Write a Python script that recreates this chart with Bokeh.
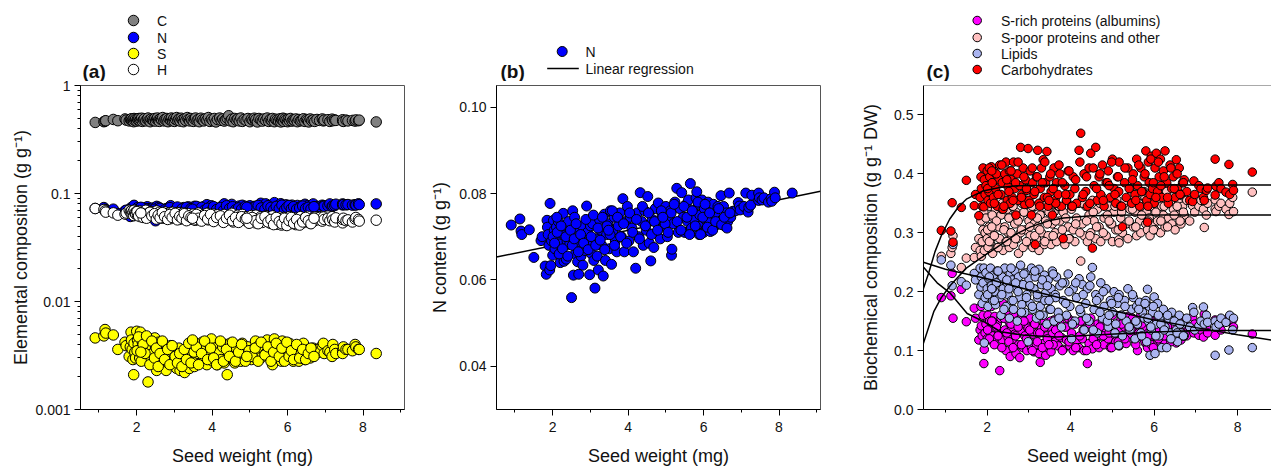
from bokeh.plotting import figure
from bokeh.layouts import row, column
from bokeh.models import Range1d, FixedTicker, Span
from bokeh.core.properties import value
from bokeh.embed import file_html
from bokeh.resources import INLINE

seed_weight = [
 .90,1.13,1.16,1.18,1.38,1.50,1.69,1.72,1.80,1.83,
 1.85,1.86,1.88,1.90,1.92,1.93,1.95,1.97,2.00,2.02,
 2.04,2.06,2.08,2.10,2.13,2.15,2.18,2.20,2.24,2.28,
 2.30,2.33,2.36,2.38,2.42,2.45,2.48,2.50,2.53,2.55,
 2.58,2.60,2.63,2.66,2.69,2.72,2.75,2.78,2.80,2.83,
 2.86,2.90,2.92,2.95,2.98,3.00,3.03,3.06,3.09,3.12,
 3.15,3.18,3.21,3.24,3.27,3.30,3.34,3.37,3.40,3.43,
 3.46,3.50,3.53,3.56,3.60,3.63,3.66,3.70,3.74,3.78,
 3.82,3.86,3.90,3.94,3.98,4.02,4.06,4.10,4.14,4.20,
 4.24,4.28,4.32,4.36,4.40,4.44,4.48,4.52,4.56,4.60,
 4.64,4.68,4.72,4.76,4.80,4.85,4.90,4.95,5.00,5.04,
 5.08,5.12,5.15,5.16,5.20,5.24,5.29,5.33,5.37,5.42,
 5.46,5.50,5.54,5.58,5.60,5.65,5.68,5.72,5.76,5.80,
 5.82,5.84,5.86,5.88,5.90,5.93,5.96,6.00,6.02,6.05,
 6.08,6.12,6.15,6.18,6.22,6.26,6.30,6.34,6.38,6.42,
 6.46,6.50,6.53,6.56,6.60,6.64,6.68,6.72,6.78,6.85,
 6.92,6.95,6.97,7.07,7.12,7.18,7.20,7.25,7.28,7.46,
 7.46,7.48,7.55,7.60,7.72,7.79,7.81,7.88,7.90,8.35,
 2.01,2.05,2.12,2.17,2.22,2.26,2.35,2.40,2.47,2.52,
 2.57,2.62,2.68,2.74,2.82,2.88,2.94,3.02,3.08,3.14,
 3.20,3.26,3.32,3.38,3.44,3.52,3.58,3.64,3.72,3.80,
 3.88,3.96,4.04,4.12,4.22,4.30,4.38,4.46,4.54,4.62,
 4.70,4.78,4.88,4.98,5.06,5.14,5.22,5.30,5.40,5.48,
 5.56,5.63,5.70,5.78,5.85,5.92,5.98,6.04,6.10,6.16,
 6.24,6.32,6.40,6.48,6.55,6.62,6.70,2.11,3.48,4.92]

nitrogen = [
 .0727,.0741,.0713,.0705,.0716,.0652,.0691,.0700,.0632,.0613,
 .0738,.0722,.0705,.0680,.0623,.0777,.0633,.0690,.0657,.0738,
 .0715,.0672,.0700,.0722,.0690,.0735,.0683,.0640,.0708,.0754,
 .0643,.0725,.0648,.0690,.0735,.0682,.0700,.0559,.0760,.0611,
 .0745,.0660,.0720,.0642,.0613,.0688,.0655,.0725,.0634,.0700,
 .0668,.0771,.0710,.0682,.0612,.0725,.0660,.0730,.0645,.0581,
 .0695,.0655,.0623,.0740,.0715,.0680,.0609,.0752,.0645,.0705,
 .0730,.0672,.0760,.0636,.0715,.0745,.0690,.0665,.0725,.0755,
 .0700,.0788,.0665,.0735,.0770,.0690,.0745,.0720,.0665,.0627,
 .0755,.0700,.0802,.0735,.0680,.0760,.0715,.0793,.0685,.0644,
 .0740,.0675,.0765,.0710,.0778,.0695,.0750,.0725,.0770,.0700,
 .0740,.0760,.0657,.0671,.0730,.0780,.0812,.0710,.0765,.0802,
 .0745,.0710,.0775,.0735,.0785,.0823,.0720,.0760,.0740,.0790,
 .0804,.0715,.0775,.0705,.0750,.0725,.0785,.0710,.0765,.0740,
 .0720,.0780,.0735,.0712,.0755,.0775,.0725,.0745,.0770,.0730,
 .0795,.0740,.0770,.0725,.0755,.0735,.0801,.0745,.0759,.0760,
 .0779,.0771,.0762,.0770,.0801,.0757,.0768,.0773,.0796,.0801,
 .0784,.0790,.0785,.0790,.0780,.0788,.0782,.0803,.0790,.0801,
 .0700,.0685,.0710,.0660,.0725,.0672,.0700,.0655,.0715,.0680,
 .0695,.0730,.0665,.0705,.0685,.0740,.0670,.0700,.0750,.0680,
 .0720,.0692,.0745,.0670,.0725,.0705,.0760,.0680,.0745,.0700,
 .0730,.0685,.0755,.0710,.0740,.0695,.0770,.0725,.0755,.0705,
 .0735,.0715,.0760,.0730,.0710,.0755,.0775,.0735,.0715,.0770,
 .0745,.0705,.0760,.0725,.0780,.0705,.0745,.0775,.0722,.0755,
 .0715,.0735,.0765,.0728,.0745,.0720,.0755,.0745,.0715,.0745]

carbon = [
 .455,.462,.468,.472,.485,.472,.490,.478,.470,.486,
 .480,.492,.470,.485,.462,.495,.475,.488,.468,.490,
 .478,.495,.472,.485,.498,.465,.480,.492,.470,.486,
 .500,.475,.462,.490,.480,.472,.495,.468,.488,.500,
 .478,.465,.492,.482,.505,.470,.486,.475,.495,.462,
 .488,.478,.500,.470,.492,.465,.485,.505,.475,.490,
 .468,.498,.480,.462,.492,.475,.505,.485,.470,.495,
 .478,.465,.490,.500,.472,.485,.462,.498,.480,.470,
 .492,.478,.505,.465,.488,.472,.495,.460,.485,.500,
 .475,.490,.468,.482,.498,.525,.470,.488,.462,.495,
 .478,.490,.470,.500,.465,.485,.475,.495,.462,.488,
 .478,.498,.470,.485,.460,.495,.480,.468,.490,.475,
 .500,.465,.485,.472,.495,.462,.488,.478,.470,.492,
 .460,.485,.475,.498,.465,.490,.478,.462,.488,.472,
 .495,.468,.482,.475,.490,.462,.485,.470,.478,.492,
 .465,.485,.475,.460,.490,.472,.480,.465,.485,.475,
 .490,.470,.478,.482,.465,.488,.472,.480,.475,.470,
 .482,.465,.478,.470,.475,.468,.480,.472,.478,.460]

sulfur = [
 .0046,.0048,.0055,.0051,.0049,.0036,.0042,.0039,.0031,.0038,
 .0052,.0044,.0036,.0029,.0021,.0041,.0034,.0030,.0053,.0044,
 .0040,.0034,.0030,.0052,.0037,.0042,.0032,.0046,.0030,.0036,
 .0018,.0040,.0028,.0045,.0033,.0026,.0046,.0038,.0023,.0031,
 .0042,.0027,.0036,.0032,.0028,.0040,.0034,.0023,.0031,.0027,
 .0036,.0039,.0028,.0033,.0026,.0030,.0035,.0024,.0028,.0037,
 .0023,.0031,.0027,.0034,.0022,.0030,.0026,.0035,.0024,.0028,
 .0032,.0036,.0025,.0041,.0029,.0033,.0038,.0027,.0042,.0030,
 .0036,.0026,.0041,.0032,.0045,.0028,.0037,.0030,.0026,.0034,
 .0029,.0038,.0027,.0040,.0021,.0033,.0041,.0029,.0035,.0027,
 .0037,.0030,.0033,.0028,.0041,.0035,.0030,.0038,.0033,.0029,
 .0036,.0032,.0043,.0030,.0034,.0039,.0030,.0041,.0036,.0033,
 .0044,.0031,.0037,.0029,.0026,.0045,.0035,.0040,.0030,.0041,
 .0034,.0028,.0043,.0032,.0037,.0029,.0039,.0033,.0030,.0041,
 .0036,.0030,.0028,.0033,.0035,.0039,.0028,.0033,.0030,.0041,
 .0029,.0034,.0031,.0036,.0030,.0033,.0037,.0032,.0036,.0034,
 .0039,.0041,.0033,.0035,.0034,.0031,.0040,.0036,.0033,.0035,
 .0033,.0038,.0036,.0036,.0035,.0040,.0038,.0036,.0036,.0033,
 .0035,.0047,.0028,.0040,.0033,.0048,.0026,.0043,.0030,.0037,
 .0025,.0033,.0043,.0029,.0036,.0026,.0039,.0031,.0027,.0033,
 .0025,.0036,.0029,.0041,.0027,.0034,.0038,.0026,.0033,.0043,
 .0029,.0037,.0030,.0026,.0043,.0028,.0036,.0031,.0042,.0028,
 .0034,.0040,.0028,.0035,.0031,.0037,.0028,.0042,.0032,.0038,
 .0028,.0034,.0041,.0031,.0037,.0028,.0042,.0031,.0035,.0029,
 .0040,.0030,.0036,.0029,.0033,.0037,.0031,.0034,.0044,.0031]

hydrogen = [
 .0726,.0711,.0690,.0672,.0662,.0630,.0645,.0660,.0700,.0680,
 .0655,.0690,.0640,.0672,.0625,.0700,.0660,.0645,.0685,.0630,
 .0665,.0640,.0690,.0610,.0655,.0675,.0625,.0650,.0700,.0640,
 .0605,.0665,.0630,.0680,.0640,.0610,.0660,.0630,.0690,.0600,
 .0645,.0670,.0615,.0655,.0590,.0630,.0675,.0605,.0650,.0620,
 .0660,.0585,.0635,.0670,.0610,.0645,.0590,.0625,.0665,.0600,
 .0640,.0580,.0615,.0660,.0595,.0635,.0605,.0650,.0575,.0625,
 .0590,.0645,.0610,.0565,.0630,.0660,.0595,.0620,.0575,.0640,
 .0605,.0655,.0570,.0625,.0590,.0645,.0560,.0610,.0635,.0580,
 .0615,.0550,.0640,.0595,.0570,.0625,.0585,.0655,.0545,.0605,
 .0575,.0630,.0555,.0600,.0640,.0570,.0610,.0545,.0590,.0625,
 .0565,.0600,.0535,.0630,.0580,.0555,.0610,.0540,.0590,.0620,
 .0560,.0600,.0530,.0580,.0620,.0545,.0590,.0520,.0565,.0605,
 .0540,.0510,.0575,.0530,.0600,.0555,.0515,.0585,.0540,.0610,
 .0525,.0570,.0600,.0540,.0515,.0580,.0550,.0610,.0530,.0570,
 .0595,.0545,.0615,.0560,.0530,.0585,.0550,.0605,.0570,.0600,
 .0555,.0605,.0575,.0590,.0560,.0610,.0570,.0545,.0595,.0535,
 .0575,.0590,.0560,.0570,.0545,.0580,.0600,.0575,.0555,.0566,
 .0680,.0620,.0660,.0600,.0640,.0590,.0670,.0620,.0650,.0580,
 .0630,.0595,.0665,.0610,.0575,.0640,.0600,.0655,.0570,.0615,
 .0590,.0650,.0560,.0620,.0600,.0570,.0640,.0590,.0555,.0625,
 .0580,.0640,.0550,.0600,.0620,.0540,.0590,.0630,.0560,.0600,
 .0540,.0610,.0580,.0530,.0600,.0560,.0525,.0590,.0610,.0545,
 .0575,.0515,.0600,.0550,.0525,.0590,.0505,.0560,.0600,.0530,
 .0575,.0510,.0545,.0600,.0560,.0525,.0590,.0660,.0590,.0590]

albumins = [
 .190,.193,.231,.155,.204,.149,.172,.155,.118,.135,
 .175,.142,.125,.160,.078,.102,.130,.145,.120,.160,
 .135,.150,.118,.175,.125,.140,.158,.120,.145,.130,
 .066,.155,.118,.180,.135,.100,.160,.122,.148,.090,
 .140,.115,.160,.128,.095,.150,.110,.088,.132,.156,
 .105,.125,.145,.100,.138,.118,.155,.105,.128,.098,
 .145,.110,.130,.095,.080,.138,.112,.150,.092,.125,
 .105,.140,.098,.128,.152,.115,.135,.108,.148,.122,
 .102,.140,.118,.155,.108,.130,.100,.145,.115,.105,
 .150,.120,.100,.138,.078,.112,.155,.103,.130,.118,
 .145,.105,.125,.150,.110,.135,.120,.105,.160,.128,
 .115,.145,.135,.108,.152,.125,.140,.112,.158,.128,
 .135,.150,.118,.145,.100,.128,.160,.122,.140,.112,
 .150,.105,.130,.118,.155,.110,.138,.125,.145,.108,
 .130,.150,.115,.140,.125,.112,.145,.130,.120,.150,
 .125,.140,.113,.130,.145,.118,.135,.150,.125,.140,
 .157,.130,.145,.126,.135,.123,.162,.140,.130,.126,
 .152,.148,.140,.135,.150,.157,.150,.152,.140,.128,
 .135,.120,.150,.110,.140,.125,.105,.155,.130,.115,
 .145,.105,.125,.140,.110,.150,.120,.135,.100,.145,
 .115,.130,.105,.140,.120,.150,.110,.135,.125,.100,
 .140,.115,.150,.105,.125,.135,.100,.145,.120,.110,
 .140,.125,.150,.105,.130,.115,.145,.120,.135,.155,
 .110,.130,.145,.115,.125,.150,.105,.135,.120,.145,
 .125,.140,.115,.130,.120,.135,.125,.150,.110,.130]

sulfur_poor = [
 .260,.265,.275,.295,.241,.257,.258,.275,.290,.270,
 .320,.260,.285,.305,.335,.270,.300,.325,.290,.275,
 .310,.345,.285,.300,.265,.325,.295,.340,.275,.310,
 .290,.330,.350,.270,.310,.285,.340,.300,.275,.325,
 .295,.345,.280,.315,.335,.290,.265,.325,.300,.350,
 .275,.335,.305,.355,.285,.320,.295,.340,.275,.315,
 .345,.290,.310,.270,.330,.300,.355,.280,.320,.340,
 .295,.350,.280,.315,.335,.300,.285,.345,.320,.295,
 .335,.280,.355,.310,.290,.340,.305,.285,.325,.350,
 .252,.315,.295,.345,.285,.330,.300,.355,.320,.290,
 .340,.310,.285,.360,.325,.295,.345,.315,.285,.335,
 .305,.355,.288,.283,.325,.300,.350,.315,.290,.340,
 .365,.310,.335,.295,.355,.320,.300,.345,.370,.315,
 .335,.305,.360,.325,.295,.350,.315,.375,.305,.340,
 .320,.365,.300,.345,.330,.310,.370,.325,.350,.315,
 .340,.305,.360,.330,.350,.315,.345,.330,.355,.320,
 .346,.360,.335,.345,.355,.340,.309,.330,.350,.340,
 .356,.336,.345,.350,.340,.331,.350,.360,.336,.369,
 .305,.285,.330,.295,.320,.275,.340,.305,.285,.325,
 .300,.345,.290,.320,.305,.335,.285,.310,.345,.295,
 .325,.305,.350,.285,.315,.335,.295,.320,.345,.305,
 .325,.290,.345,.315,.300,.350,.320,.295,.335,.310,
 .350,.300,.330,.315,.345,.305,.335,.355,.320,.340,
 .310,.350,.330,.360,.320,.345,.305,.335,.365,.320,
 .345,.310,.355,.330,.345,.320,.335,.310,.335,.320]

lipids = [
 .254,.245,.210,.280,.217,.211,.231,.220,.195,.240,
 .208,.225,.180,.215,.240,.113,.190,.232,.205,.175,
 .222,.195,.240,.210,.185,.228,.200,.178,.235,.215,
 .190,.160,.225,.205,.240,.175,.215,.195,.155,.230,
 .185,.220,.170,.235,.205,.150,.225,.190,.245,.178,
 .212,.165,.232,.195,.115,.222,.180,.240,.170,.205,
 .225,.155,.190,.238,.175,.212,.160,.228,.198,.145,
 .220,.170,.205,.235,.150,.195,.225,.165,.210,.140,
 .185,.215,.160,.230,.175,.120,.205,.150,.190,.222,
 .165,.212,.135,.180,.205,.150,.225,.241,.170,.195,
 .130,.190,.215,.155,.175,.205,.140,.185,.165,.200,
 .145,.180,.109,.195,.160,.125,.185,.150,.205,.135,
 .170,.190,.120,.175,.145,.182,.130,.165,.155,.185,
 .115,.204,.150,.175,.092,.135,.165,.191,.095,.145,
 .180,.125,.158,.105,.170,.140,.105,.155,.130,.165,
 .120,.150,.135,.115,.160,.130,.145,.125,.155,.140,
 .173,.165,.135,.142,.150,.174,.145,.160,.148,.092,
 .150,.140,.145,.155,.148,.101,.160,.135,.155,.105,
 .195,.225,.205,.185,.215,.235,.195,.170,.220,.205,
 .240,.185,.215,.200,.165,.230,.190,.210,.175,.235,
 .195,.160,.220,.185,.210,.170,.230,.190,.155,.215,
 .180,.200,.145,.215,.170,.195,.155,.210,.135,.185,
 .165,.200,.150,.180,.130,.190,.160,.175,.140,.195,
 .150,.170,.125,.180,.155,.140,.175,.125,.160,.145,
 .135,.160,.120,.150,.130,.145,.125,.205,.185,.160]

carbohydrates = [
 .304,.303,.351,.284,.343,.389,.346,.365,.329,.360,
 .395,.375,.345,.410,.344,.390,.365,.380,.405,.355,
 .370,.395,.350,.412,.385,.360,.402,.375,.345,.390,
 .415,.365,.385,.340,.400,.420,.355,.378,.405,.350,
 .390,.360,.420,.375,.330,.400,.355,.380,.445,.365,
 .410,.348,.390,.372,.443,.355,.405,.330,.385,.365,
 .280,.395,.440,.350,.375,.410,.424,.360,.385,.438,
 .345,.395,.370,.330,.410,.355,.385,.365,.400,.345,
 .290,.380,.355,.405,.365,.345,.395,.375,.350,.440,
 .469,.360,.400,.370,.345,.410,.435,.274,.380,.445,
 .355,.395,.365,.415,.345,.385,.405,.360,.425,.375,
 .350,.395,.370,.420,.345,.310,.385,.360,.410,.375,
 .350,.400,.365,.425,.380,.345,.410,.370,.395,.439,
 .355,.318,.420,.385,.365,.430,.375,.350,.410,.435,
 .370,.395,.425,.360,.405,.439,.385,.350,.415,.375,
 .395,.360,.424,.375,.410,.365,.385,.390,.370,.355,
 .353,.388,.365,.380,.375,.360,.355,.372,.376,.425,
 .364,.379,.385,.375,.369,.416,.365,.382,.372,.403,
 .375,.410,.385,.350,.400,.365,.415,.345,.390,.370,
 .405,.355,.385,.420,.360,.395,.375,.350,.410,.370,
 .395,.345,.385,.420,.360,.400,.375,.350,.415,.385,
 .365,.405,.345,.390,.420,.365,.395,.350,.410,.375,
 .400,.355,.385,.420,.365,.395,.345,.410,.375,.390,
 .355,.415,.370,.400,.345,.425,.385,.360,.420,.380,
 .395,.360,.410,.375,.400,.365,.385,.405,.355,.380]

regression_x = [.51, 9.1]
regression_y = [.0653, .0805]

carb_curve_x = [.47,.6,.75,.9,1.1,1.3,1.5,1.9,2.3,2.7,4,8.9]
carb_curve_y = [.205,.232,.268,.295,.323,.343,.357,.371,.377,.38,.381,.381]
poor_curve_x = [.47,.6,.72,.9,1.12,1.5,1.8,2.16,2.7,3.04,3.5,3.83,4.5,5.5,8.9]
poor_curve_y = [.112,.14,.166,.19,.211,.24,.255,.272,.298,.31,.321,.325,.329,.33,.33]
lipid_curve_x = [.47,1,2,3,4,5,6,7,8,8.9]
lipid_curve_y = [.25,.238,.222,.203,.185,.168,.152,.139,.127,.117]
alb_curve_x = [.47,.8,1.12,1.52,1.92,2.32,2.88,3.67,4.7,5.9,7,8.9]
alb_curve_y = [.242,.215,.197,.163,.149,.132,.126,.123,.127,.131,.134,.134]

FONT = "Liberation Sans"
INK = "#111111"
HEADER_H = 81
OVERLAP = 6
PANEL_TOP = HEADER_H - OVERLAP


def panel(width, left, right, x_range, y_range, y_axis_type, xticks, yticks, ylabel, standoff):
    p = figure(width=width, height=470 - PANEL_TOP, output_backend="svg", toolbar_location=None,
               x_range=x_range, y_range=y_range, y_axis_type=y_axis_type,
               min_border_left=left, min_border_right=right, min_border_top=85 - PANEL_TOP, min_border_bottom=61,
               border_fill_color=None, background_fill_color=None)
    p.grid.visible = False
    p.outline_line_color = "#555555"
    p.xaxis.ticker = FixedTicker(ticks=xticks, minor_ticks=[1, 3, 5, 7, 9])
    p.yaxis.ticker = yticks
    p.xaxis.axis_label = "Seed weight (mg)"
    p.yaxis.axis_label = ylabel
    p.yaxis.axis_label_standoff = standoff
    p.xaxis.axis_label_standoff = 11
    p.xaxis.major_label_standoff = 6
    p.yaxis.major_label_standoff = 4
    for ax in (p.xaxis[0], p.yaxis[0]):
        ax.axis_label_text_font = FONT
        ax.axis_label_text_font_size = "18px"
        ax.axis_label_text_font_style = "normal"
        ax.axis_label_text_color = INK
        ax.major_label_text_font = FONT
        ax.major_label_text_font_size = "14px"
        ax.major_label_text_color = INK
        ax.major_tick_out = 6
        ax.major_tick_in = 0
        ax.minor_tick_out = 3
        ax.minor_tick_in = 0
        ax.axis_line_color = "black"
    return p


# Strip above the panels: panel letters and legends, in page pixels.
header = figure(width=1271, height=HEADER_H, output_backend="svg", toolbar_location=None,
                x_range=Range1d(0, 1271), y_range=Range1d(HEADER_H, 0),
                x_axis_location=None, y_axis_location=None,
                min_border_left=0, min_border_right=0, min_border_top=0, min_border_bottom=0,
                outline_line_color=None, border_fill_color=None, background_fill_color=None,
                margin=(0, 0, -OVERLAP, 0))
header.grid.visible = False


def letter(x, txt):
    header.text([x], [71], text=[txt], text_font=value(FONT), text_font_style="bold",
                text_font_size="19px", text_color=INK, text_baseline="middle")


def key(mx, tx, y, label, size, col):
    header.scatter([mx], [y], size=size, marker="circle", fill_color=col, line_color="black", line_width=1)
    key_text(tx, y, label)


def key_text(tx, y, label):
    header.text([tx], [y], text=[label], text_font=value(FONT), text_font_size="14px",
                text_color=INK, text_baseline="middle")


letter(82, "(a)")
letter(500, "(b)")
letter(926, "(c)")
for y, label, col in ((20, "C", "#808080"), (37, "N", "#0000ff"), (53, "S", "#ffff00"), (69, "H", "#ffffff")):
    key(133, 156.5, y, label, 10.5, col)
key(561.7, 585, 51, "N", 10, "#0000ff")
header.line([546.7, 578.3], [68, 68], line_color="black", line_width=1.5)
key_text(585, 68, "Linear regression")
for y, label, col in ((20, "S-rich proteins (albumins)", "#ff00ff"), (37, "S-poor proteins and other", "#ffc0c0"),
                      (53, "Lipids", "#aab4f0"), (69, "Carbohydrates", "#ff0000")):
    key(976.7, 1000.5, y, label, 8.5, col)

# (a)
log_minor = [m * d for d in (.001, .01, .1) for m in (2, 3, 4, 5, 6, 7, 8, 9)]
a = panel(425, 80, 21, Range1d(.51, 9.1), Range1d(.001, 1), "log", [2, 4, 6, 8],
          FixedTicker(ticks=[.001, .01, .1, 1], minor_ticks=log_minor),
          "Elemental composition (g g\u207b\u00b9)", 1)
a.yaxis.major_label_overrides = {.001: "0.001", .01: "0.01", .1: "0.1", 1: "1"}
a.scatter(seed_weight[:len(carbon)], carbon, size=10.5, marker="circle", fill_color="#808080", line_color="black", line_width=1)
for vals, col in ((nitrogen, "#0000ff"), (sulfur, "#ffff00"), (hydrogen, "#ffffff")):
    a.scatter(seed_weight, vals, size=10.5, marker="circle", fill_color=col, line_color="black", line_width=1)

# (b)
b = panel(425, 71, 30, Range1d(.51, 9.1), Range1d(.03, .105), "linear", [2, 4, 6, 8],
          FixedTicker(ticks=[.04, .06, .08, .10]),
          "N content (g g\u207b\u00b9)", 6)
b.yaxis.major_label_overrides = {.04: "0.04", .06: "0.06", .08: "0.08", .10: "0.10"}
b.line(regression_x, regression_y, line_color="black", line_width=1.5)
b.scatter(seed_weight, nitrogen, size=10, marker="circle", fill_color="#0000ff", line_color="black", line_width=1)

# (c)
c = panel(421, 73, 0, Range1d(.474, 8.81), Range1d(0, .55), "linear", [2, 4, 6, 8],
          FixedTicker(ticks=[0, .1, .2, .3, .4, .5]),
          "Biochemical composition (g g\u207b\u00b9 DW)", 10)
c.yaxis.major_label_overrides = {0: "0.0", .1: "0.1", .2: "0.2", .3: "0.3", .4: "0.4", .5: "0.5"}
c.outline_line_color = None
c.add_layout(Span(location=.55, dimension="width", line_color="#555555", line_width=1))
for vals, col in ((albumins, "#ff00ff"), (sulfur_poor, "#ffc0c0"), (lipids, "#aab4f0"), (carbohydrates, "#ff0000")):
    c.scatter(seed_weight, vals, size=8.5, marker="circle", fill_color=col, line_color="black", line_width=1)
for xs, ys in ((carb_curve_x, carb_curve_y), (poor_curve_x, poor_curve_y), (lipid_curve_x, lipid_curve_y), (alb_curve_x, alb_curve_y)):
    c.line(xs, ys, line_color="black", line_width=1.5)

open("out.html", "w").write(file_html(column(header, row(a, b, c)), INLINE))
